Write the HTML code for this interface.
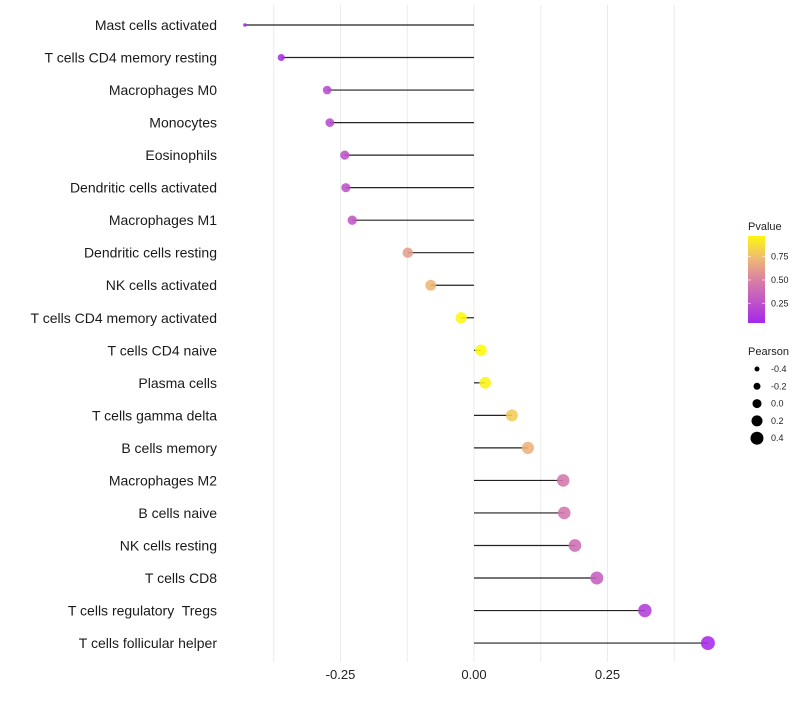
<!DOCTYPE html>
<html><head><meta charset="utf-8"><style>
body{margin:0;background:#fff;font-family:"Liberation Sans",sans-serif}
svg text{font-family:"Liberation Sans",sans-serif;white-space:pre}
</style></head><body>
<svg id="c" width="800" height="700"></svg>
<script>
const categories=["Mast cells activated","T cells CD4 memory resting","Macrophages M0","Monocytes","Eosinophils","Dendritic cells activated","Macrophages M1","Dendritic cells resting","NK cells activated","T cells CD4 memory activated","T cells CD4 naive","Plasma cells","T cells gamma delta","B cells memory","Macrophages M2","B cells naive","NK cells resting","T cells CD8","T cells regulatory  Tregs","T cells follicular helper"];
const pearson=[-0.429,-0.361,-0.275,-0.27,-0.242,-0.24,-0.228,-0.124,-0.081,-0.024,0.013,0.021,0.071,0.101,0.167,0.169,0.189,0.230,0.320,0.438];
const pvalue=[0.04,0.08,0.22,0.22,0.26,0.26,0.28,0.62,0.72,0.97,0.98,0.95,0.8,0.7,0.45,0.45,0.4,0.32,0.15,0.05];
const xTicks=[-0.25,0,0.25];
const xTickLabels=["-0.25","0.00","0.25"];
const xMinor=[-0.375,-0.125,0.125,0.375];
const legendP=[0.75,0.5,0.25];
const legendPearson=[-0.4,-0.2,0.0,0.2,0.4];

const NS="http://www.w3.org/2000/svg";
const svg=document.getElementById('c');
const xs=v=>474+534*v;
const ys=i=>25+i*32.53;
function rs(v){const t=Math.max(0,Math.min(1,(v+0.43)/0.87));return Math.sqrt(2.25+46.75*Math.pow(t,0.6));}
function col(p){
  const st=[[0,[160,32,240]],[0.5,[218,128,165]],[0.75,[240,190,110]],[1,[255,255,0]]];
  for(let k=0;k<st.length-1;k++){
    if(p<=st[k+1][0]){const t=(p-st[k][0])/(st[k+1][0]-st[k][0]);
      const c=st[k][1].map((a,j)=>Math.round(a+(st[k+1][1][j]-a)*t));return `rgb(${c})`;}
  }
  return 'rgb(255,255,0)';
}
function mk(tag,attrs,parent){const e=document.createElementNS(NS,tag);for(const k in attrs)e.setAttribute(k,attrs[k]);(parent||svg).appendChild(e);return e;}
xMinor.concat(xTicks).forEach(v=>{
  const l=mk('line',{x1:xs(v),x2:xs(v),y1:5,y2:662,stroke:'#ebebeb','stroke-width':1});
  
  
});
xTicks.forEach((v,i)=>{
  const t=mk('text',{x:xs(v),y:679,'text-anchor':'middle','font-size':13,fill:'#222'});
  t.textContent=xTickLabels[i];
  
  
});
categories.forEach((c,i)=>{
  const y=ys(i);
  const t=mk('text',{x:217,y:y+5,'text-anchor':'end','font-size':14,fill:'#1a1a1a'});
  t.textContent=c;
  
  
  const l=mk('line',{x1:xs(0),x2:xs(pearson[i]),y1:y,y2:y,stroke:'#222','stroke-width':1.2});
  
  
  const d=mk('circle',{cx:xs(pearson[i]),cy:y,r:rs(pearson[i]),fill:col(pvalue[i]),'fill-opacity':0.88});
  
  
});
const g=mk('g',{});


const lt=mk('text',{x:748,y:230,'font-size':11,fill:'#222'},g);lt.textContent='Pvalue';
const defs=mk('defs',{});
const gr=mk('linearGradient',{id:'pg',x1:0,y1:1,x2:0,y2:0},defs);
[0,0.25,0.5,0.75,1].forEach(o=>mk('stop',{offset:o,'stop-color':col(0.04+o*0.93)},gr));
mk('rect',{x:748,y:236,width:17,height:87,fill:'url(#pg)'},g);
const pScale=p=>323-(p-0.04)/0.93*87;
legendP.forEach(p=>{
  mk('line',{x1:748,x2:751,y1:pScale(p),y2:pScale(p),stroke:'#fff','stroke-opacity':0.6},g);
  mk('line',{x1:762,x2:765,y1:pScale(p),y2:pScale(p),stroke:'#fff','stroke-opacity':0.6},g);
  const t=mk('text',{x:771,y:pScale(p)+3,'font-size':9,fill:'#222'},g);t.textContent=p.toFixed(2);
});
const g2=mk('g',{});


const lt2=mk('text',{x:748,y:355,'font-size':11,fill:'#222'},g2);lt2.textContent='Pearson';
const legR=[2.5,3.5,4.5,5.5,6.5];
legendPearson.forEach((v,i)=>{
  const y=369+i*17.3;
  mk('circle',{cx:757,cy:y,r:legR[i],fill:'#000'},g2);
  const t=mk('text',{x:771,y:y+3,'font-size':9,fill:'#222'},g2);t.textContent=v.toFixed(1);
});
</script>
</body></html>
